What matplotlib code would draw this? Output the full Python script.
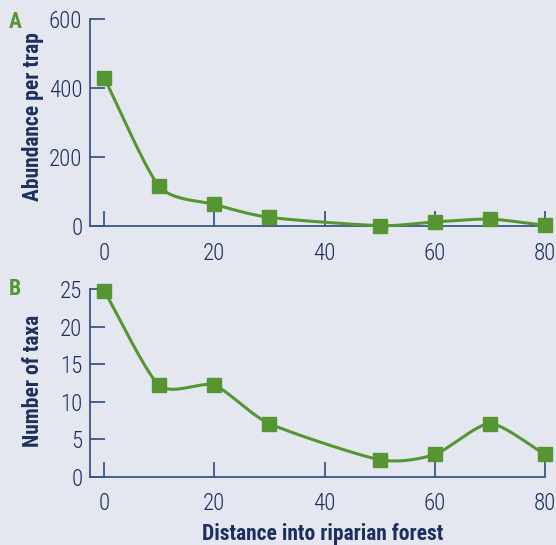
import numpy as np
import matplotlib
matplotlib.use("Agg")
import matplotlib.pyplot as plt

# Sampling distances (m into riparian forest)
distance = [0, 10, 20, 30, 50, 60, 70, 80]
# Panel A: abundance per trap
abundance = [430, 115, 63, 25, 1, 12, 20, 2]
# Panel B: number of taxa
taxa = [24.8, 12.2, 12.2, 7.1, 2.3, 3.0, 7.1, 3.0]

x_ticks = [0, 20, 40, 60, 80]
a_ticks = [0, 200, 400, 600]
b_ticks = [0, 5, 10, 15, 20, 25]

BG = "#e4e7f0"
GREEN = "#559632"
NAVY = "#1c2f5e"
AXIS = "#3a5585"
FONT = ["Roboto Condensed", "DejaVu Sans"]

plt.rcParams["font.family"] = FONT


def cardinal_spline(xs, ys, tension=0.7, n=40):
    """Cardinal (Hermite) curve through the given points; tension scales the tangents."""
    p = np.column_stack([xs, ys]).astype(float)
    p = np.vstack([2 * p[0] - p[1], p, 2 * p[-1] - p[-2]])
    t = np.linspace(0, 1, n)[:, None]
    h00 = 2 * t ** 3 - 3 * t ** 2 + 1
    h10 = t ** 3 - 2 * t ** 2 + t
    h01 = -2 * t ** 3 + 3 * t ** 2
    h11 = t ** 3 - t ** 2
    out = []
    for i in range(1, len(p) - 2):
        m1 = tension * 0.5 * (p[i + 1] - p[i - 1])
        m2 = tension * 0.5 * (p[i + 2] - p[i])
        seg = h00 * p[i] + h10 * m1 + h01 * p[i + 1] + h11 * m2
        out.append(seg if i == 1 else seg[1:])
    out = np.vstack(out)
    return out[:, 0], out[:, 1]


fig = plt.figure(figsize=(5.56, 5.45), dpi=100, facecolor=BG)

W, H = 556, 545
left, right = 90 / W, 545 / W
axA = fig.add_axes([left, (H - 226) / H, right - left, (226 - 19) / H])
axB = fig.add_axes([left, (H - 477) / H, right - left, (477 - 289) / H])


def style(ax, yvals, yticks, ylabel, xpad):
    ax.set_facecolor(BG)
    xs, ys = cardinal_spline(distance, yvals)
    ax.plot(xs, ys, color=GREEN, lw=2.2, clip_on=False, zorder=3)
    ax.plot(distance, yvals, ls="none", marker="s", ms=10, color=GREEN,
            clip_on=False, zorder=4)
    ax.set_xlim(-2.55, 80)
    ax.set_ylim(yticks[0], yticks[-1])
    for s in ("top", "right"):
        ax.spines[s].set_visible(False)
    for s in ("left", "bottom"):
        ax.spines[s].set_color(AXIS)
        ax.spines[s].set_linewidth(1.3)
    ax.set_xticks(x_ticks)
    ax.set_yticks(yticks)
    ax.tick_params(axis="both", direction="in", length=11, width=1.3,
                   color=AXIS, labelcolor=NAVY, labelsize=16.5)
    ax.tick_params(axis="x", pad=xpad)
    ax.tick_params(axis="y", pad=5.5)
    for lab in ax.get_xticklabels() + ax.get_yticklabels():
        lab.set_fontweight("light")
    ax.set_ylabel(ylabel, color=NAVY, fontsize=15.5, fontweight="bold")


style(axA, abundance, a_ticks, "Abundance per trap", 11.5)
style(axB, taxa, b_ticks, "Number of taxa", 10.5)
axA.yaxis.set_label_coords(-0.102, 0.529)
axB.yaxis.set_label_coords(-0.102, 0.51)

fig.text(15 / W, 1 - 22 / H, "A", color=GREEN, fontsize=15.5, fontweight="bold",
         ha="center", va="center")
fig.text(15 / W, 1 - 289 / H, "B", color=GREEN, fontsize=15.5, fontweight="bold",
         ha="center", va="center")
fig.text(323 / W, 1 - 540 / H, "Distance into riparian forest", color=NAVY,
         fontsize=15.5, fontweight="bold", ha="center", va="baseline")

fig.savefig("out.png", dpi=100, facecolor=BG)
